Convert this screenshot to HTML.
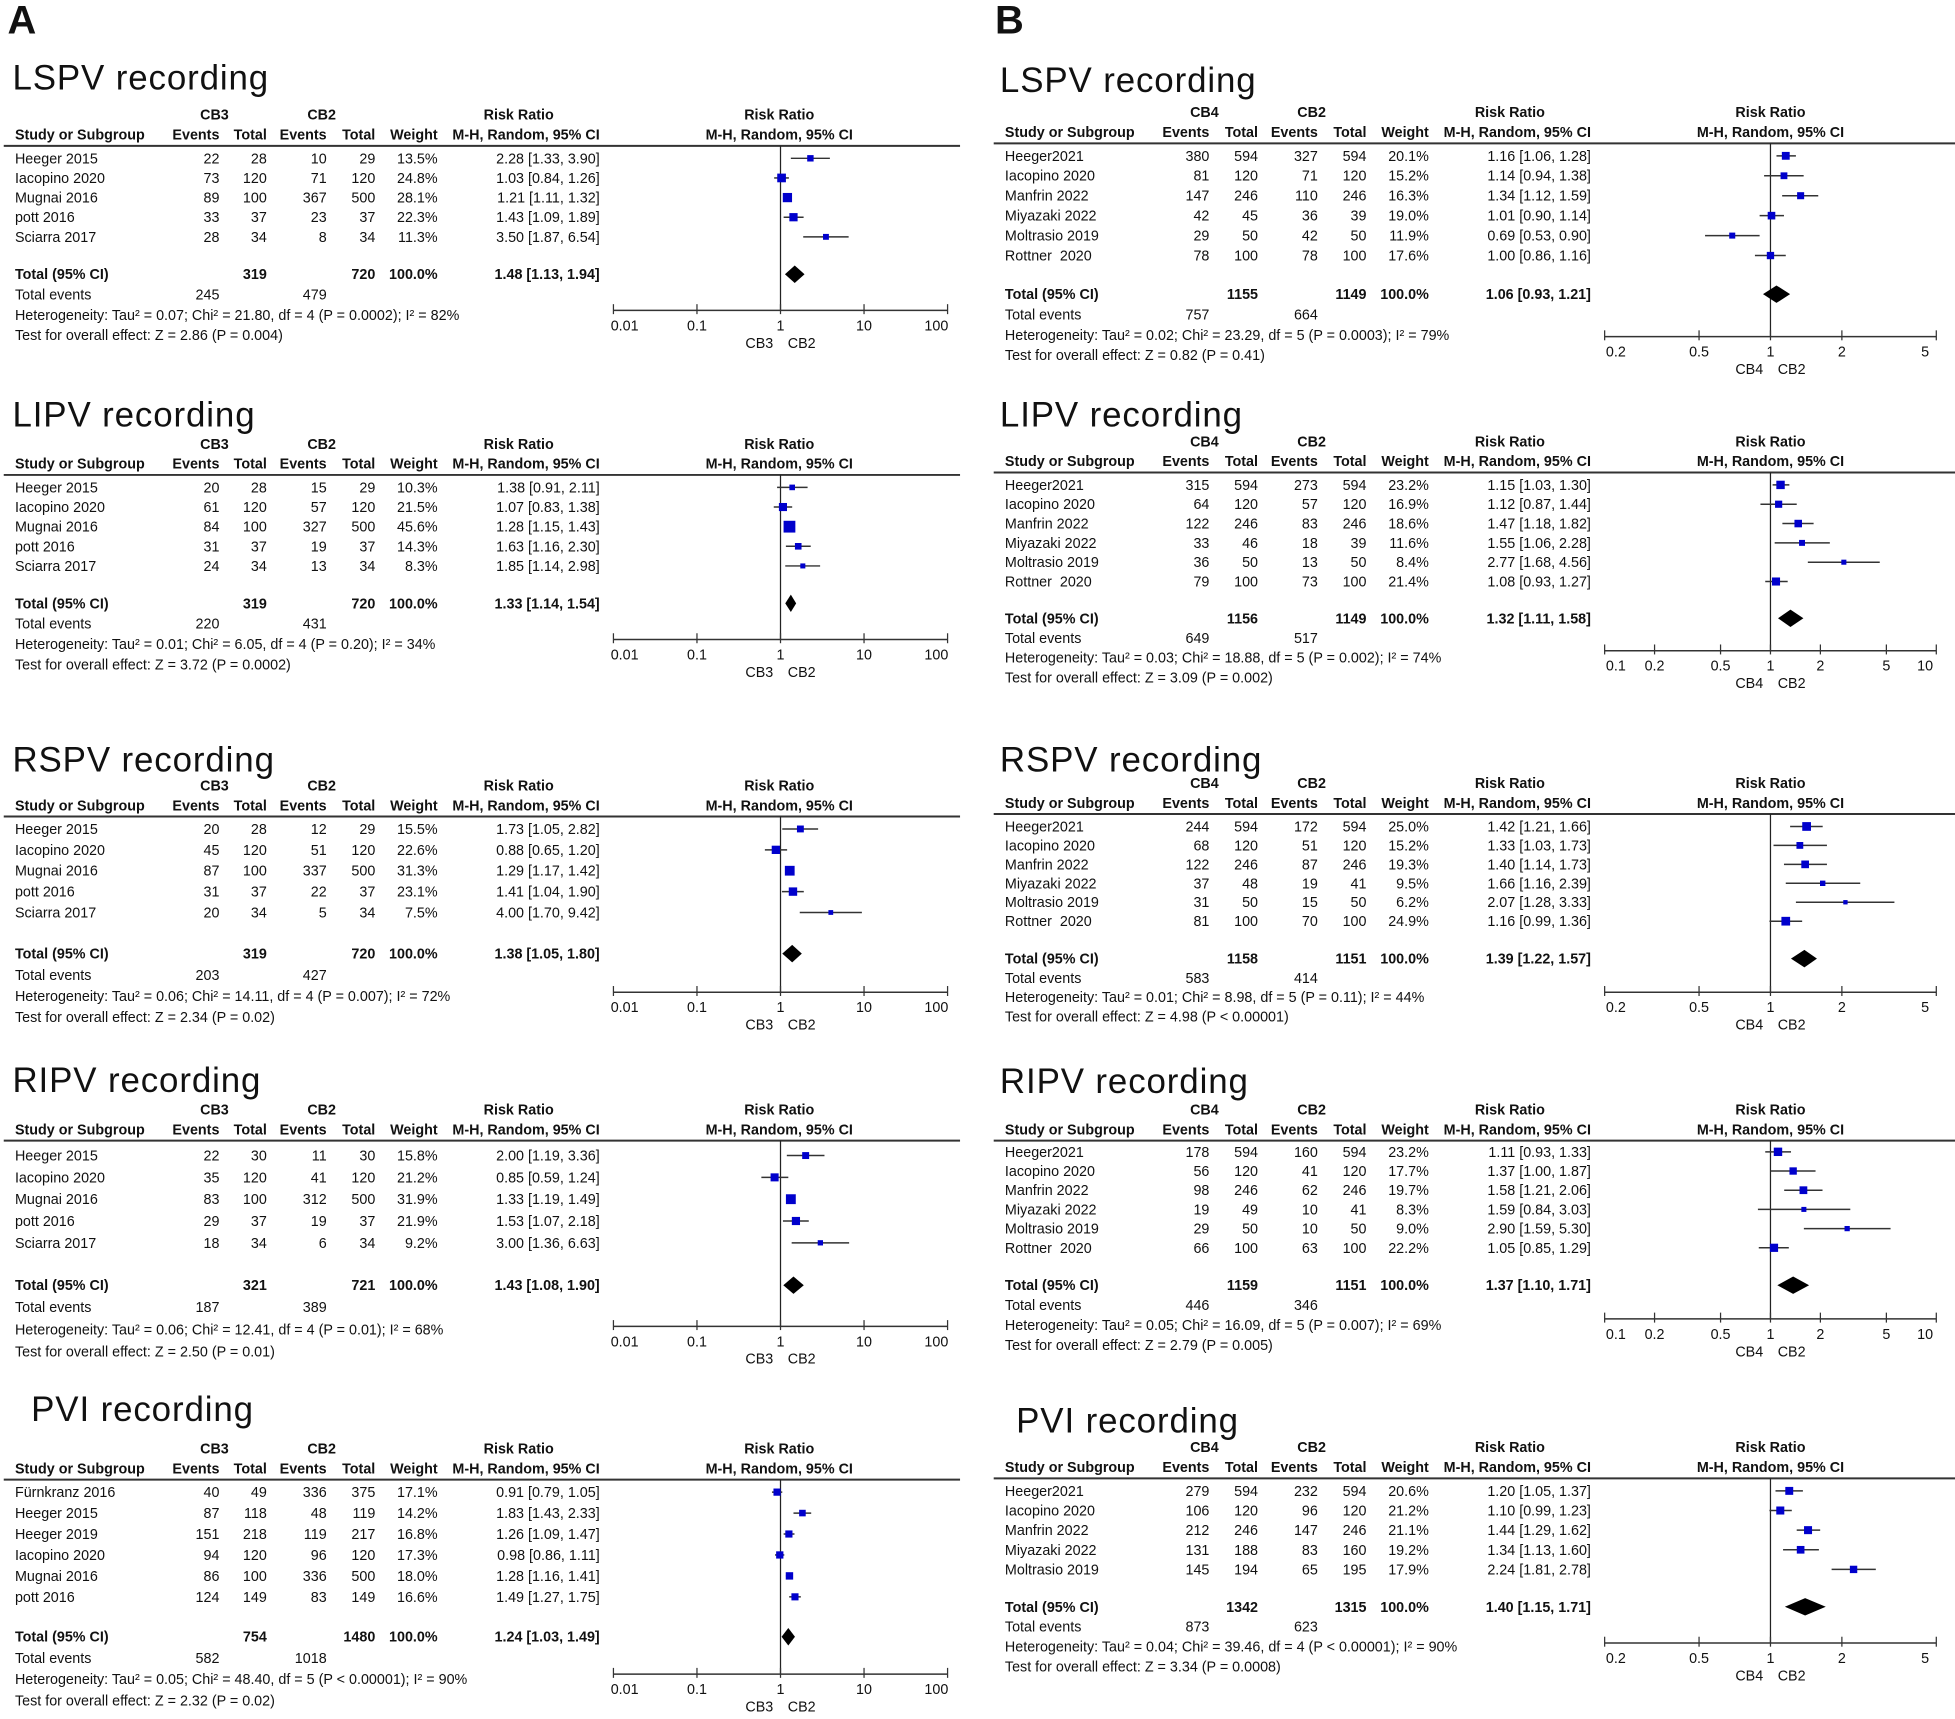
<!DOCTYPE html>
<html><head><meta charset="utf-8"><style>
html,body{margin:0;padding:0;background:#fff}
svg{display:block}
text{font-family:"Liberation Sans",Arial,sans-serif;fill:#111;white-space:pre}
</style></head><body>
<svg id="fig" width="1955" height="1719" viewBox="0 0 1568 1379" preserveAspectRatio="none" xmlns="http://www.w3.org/2000/svg" xml:space="preserve">
<text x="6" y="27" font-size="32" font-weight="bold">A</text>
<text x="798" y="27" font-size="32" font-weight="bold">B</text>
</svg>
<script>
// ---- Data (A panels: CB3 vs CB2) ----
const a1Studies=["Heeger 2015","Iacopino 2020","Mugnai 2016","pott 2016","Sciarra 2017"];
const a1Ev1=[22,73,89,33,28];const a1Tot1=[28,120,100,37,34];const a1Ev2=[10,71,367,23,8];const a1Tot2=[29,120,500,37,34];
const a1W=[13.5,24.8,28.1,22.3,11.3];const a1RR=[2.28,1.03,1.21,1.43,3.50];const a1Lo=[1.33,0.84,1.11,1.09,1.87];const a1Hi=[3.90,1.26,1.32,1.89,6.54];
const a1Total=[319,720,1.48,1.13,1.94];const a1Events=[245,479];
const a1Het="Heterogeneity: Tau² = 0.07; Chi² = 21.80, df = 4 (P = 0.0002); I² = 82%";const a1Z="Test for overall effect: Z = 2.86 (P = 0.004)";

const a2Studies=["Heeger 2015","Iacopino 2020","Mugnai 2016","pott 2016","Sciarra 2017"];
const a2Ev1=[20,61,84,31,24];const a2Tot1=[28,120,100,37,34];const a2Ev2=[15,57,327,19,13];const a2Tot2=[29,120,500,37,34];
const a2W=[10.3,21.5,45.6,14.3,8.3];const a2RR=[1.38,1.07,1.28,1.63,1.85];const a2Lo=[0.91,0.83,1.15,1.16,1.14];const a2Hi=[2.11,1.38,1.43,2.30,2.98];
const a2Total=[319,720,1.33,1.14,1.54];const a2Events=[220,431];
const a2Het="Heterogeneity: Tau² = 0.01; Chi² = 6.05, df = 4 (P = 0.20); I² = 34%";const a2Z="Test for overall effect: Z = 3.72 (P = 0.0002)";

const a3Studies=["Heeger 2015","Iacopino 2020","Mugnai 2016","pott 2016","Sciarra 2017"];
const a3Ev1=[20,45,87,31,20];const a3Tot1=[28,120,100,37,34];const a3Ev2=[12,51,337,22,5];const a3Tot2=[29,120,500,37,34];
const a3W=[15.5,22.6,31.3,23.1,7.5];const a3RR=[1.73,0.88,1.29,1.41,4.00];const a3Lo=[1.05,0.65,1.17,1.04,1.70];const a3Hi=[2.82,1.20,1.42,1.90,9.42];
const a3Total=[319,720,1.38,1.05,1.80];const a3Events=[203,427];
const a3Het="Heterogeneity: Tau² = 0.06; Chi² = 14.11, df = 4 (P = 0.007); I² = 72%";const a3Z="Test for overall effect: Z = 2.34 (P = 0.02)";

const a4Studies=["Heeger 2015","Iacopino 2020","Mugnai 2016","pott 2016","Sciarra 2017"];
const a4Ev1=[22,35,83,29,18];const a4Tot1=[30,120,100,37,34];const a4Ev2=[11,41,312,19,6];const a4Tot2=[30,120,500,37,34];
const a4W=[15.8,21.2,31.9,21.9,9.2];const a4RR=[2.00,0.85,1.33,1.53,3.00];const a4Lo=[1.19,0.59,1.19,1.07,1.36];const a4Hi=[3.36,1.24,1.49,2.18,6.63];
const a4Total=[321,721,1.43,1.08,1.90];const a4Events=[187,389];
const a4Het="Heterogeneity: Tau² = 0.06; Chi² = 12.41, df = 4 (P = 0.01); I² = 68%";const a4Z="Test for overall effect: Z = 2.50 (P = 0.01)";

const a5Studies=["Fürnkranz 2016","Heeger 2015","Heeger 2019","Iacopino 2020","Mugnai 2016","pott 2016"];
const a5Ev1=[40,87,151,94,86,124];const a5Tot1=[49,118,218,120,100,149];const a5Ev2=[336,48,119,96,336,83];const a5Tot2=[375,119,217,120,500,149];
const a5W=[17.1,14.2,16.8,17.3,18.0,16.6];const a5RR=[0.91,1.83,1.26,0.98,1.28,1.49];const a5Lo=[0.79,1.43,1.09,0.86,1.16,1.27];const a5Hi=[1.05,2.33,1.47,1.11,1.41,1.75];
const a5Total=[754,1480,1.24,1.03,1.49];const a5Events=[582,1018];
const a5Het="Heterogeneity: Tau² = 0.05; Chi² = 48.40, df = 5 (P < 0.00001); I² = 90%";const a5Z="Test for overall effect: Z = 2.32 (P = 0.02)";

// ---- Data (B panels: CB4 vs CB2) ----
const b1Studies=["Heeger2021","Iacopino 2020","Manfrin 2022","Miyazaki 2022","Moltrasio 2019","Rottner  2020"];
const b1Ev1=[380,81,147,42,29,78];const b1Tot1=[594,120,246,45,50,100];const b1Ev2=[327,71,110,36,42,78];const b1Tot2=[594,120,246,39,50,100];
const b1W=[20.1,15.2,16.3,19.0,11.9,17.6];const b1RR=[1.16,1.14,1.34,1.01,0.69,1.00];const b1Lo=[1.06,0.94,1.12,0.90,0.53,0.86];const b1Hi=[1.28,1.38,1.59,1.14,0.90,1.16];
const b1Total=[1155,1149,1.06,0.93,1.21];const b1Events=[757,664];
const b1Het="Heterogeneity: Tau² = 0.02; Chi² = 23.29, df = 5 (P = 0.0003); I² = 79%";const b1Z="Test for overall effect: Z = 0.82 (P = 0.41)";

const b2Studies=["Heeger2021","Iacopino 2020","Manfrin 2022","Miyazaki 2022","Moltrasio 2019","Rottner  2020"];
const b2Ev1=[315,64,122,33,36,79];const b2Tot1=[594,120,246,46,50,100];const b2Ev2=[273,57,83,18,13,73];const b2Tot2=[594,120,246,39,50,100];
const b2W=[23.2,16.9,18.6,11.6,8.4,21.4];const b2RR=[1.15,1.12,1.47,1.55,2.77,1.08];const b2Lo=[1.03,0.87,1.18,1.06,1.68,0.93];const b2Hi=[1.30,1.44,1.82,2.28,4.56,1.27];
const b2Total=[1156,1149,1.32,1.11,1.58];const b2Events=[649,517];
const b2Het="Heterogeneity: Tau² = 0.03; Chi² = 18.88, df = 5 (P = 0.002); I² = 74%";const b2Z="Test for overall effect: Z = 3.09 (P = 0.002)";

const b3Studies=["Heeger2021","Iacopino 2020","Manfrin 2022","Miyazaki 2022","Moltrasio 2019","Rottner  2020"];
const b3Ev1=[244,68,122,37,31,81];const b3Tot1=[594,120,246,48,50,100];const b3Ev2=[172,51,87,19,15,70];const b3Tot2=[594,120,246,41,50,100];
const b3W=[25.0,15.2,19.3,9.5,6.2,24.9];const b3RR=[1.42,1.33,1.40,1.66,2.07,1.16];const b3Lo=[1.21,1.03,1.14,1.16,1.28,0.99];const b3Hi=[1.66,1.73,1.73,2.39,3.33,1.36];
const b3Total=[1158,1151,1.39,1.22,1.57];const b3Events=[583,414];
const b3Het="Heterogeneity: Tau² = 0.01; Chi² = 8.98, df = 5 (P = 0.11); I² = 44%";const b3Z="Test for overall effect: Z = 4.98 (P < 0.00001)";

const b4Studies=["Heeger2021","Iacopino 2020","Manfrin 2022","Miyazaki 2022","Moltrasio 2019","Rottner  2020"];
const b4Ev1=[178,56,98,19,29,66];const b4Tot1=[594,120,246,49,50,100];const b4Ev2=[160,41,62,10,10,63];const b4Tot2=[594,120,246,41,50,100];
const b4W=[23.2,17.7,19.7,8.3,9.0,22.2];const b4RR=[1.11,1.37,1.58,1.59,2.90,1.05];const b4Lo=[0.93,1.00,1.21,0.84,1.59,0.85];const b4Hi=[1.33,1.87,2.06,3.03,5.30,1.29];
const b4Total=[1159,1151,1.37,1.10,1.71];const b4Events=[446,346];
const b4Het="Heterogeneity: Tau² = 0.05; Chi² = 16.09, df = 5 (P = 0.007); I² = 69%";const b4Z="Test for overall effect: Z = 2.79 (P = 0.005)";

const b5Studies=["Heeger2021","Iacopino 2020","Manfrin 2022","Miyazaki 2022","Moltrasio 2019"];
const b5Ev1=[279,106,212,131,145];const b5Tot1=[594,120,246,188,194];const b5Ev2=[232,96,147,83,65];const b5Tot2=[594,120,246,160,195];
const b5W=[20.6,21.2,21.1,19.2,17.9];const b5RR=[1.20,1.10,1.44,1.34,2.24];const b5Lo=[1.05,0.99,1.29,1.13,1.81];const b5Hi=[1.37,1.23,1.62,1.60,2.78];
const b5Total=[1342,1315,1.40,1.15,1.71];const b5Events=[873,623];
const b5Het="Heterogeneity: Tau² = 0.04; Chi² = 39.46, df = 4 (P < 0.00001); I² = 90%";const b5Z="Test for overall effect: Z = 3.34 (P = 0.0008)";

// tick labels
const ticksA=[0.01,0.1,1,10,100];
const ticksB1=[0.2,0.5,1,2,5];
const ticksB2=[0.1,0.2,0.5,1,2,5,10];

const NS="http://www.w3.org/2000/svg";
const svg=document.getElementById('fig');
function mk(tag,attrs,parent){const e=document.createElementNS(NS,tag);for(const k in attrs)e.setAttribute(k,attrs[k]);(parent||svg).appendChild(e);return e;}
function txt(x,y,s,anchor,size,bold,parent,fill){const t=mk('text',{x:x,y:y,'font-size':size||11.5,'text-anchor':anchor||'start'},parent);if(bold)t.setAttribute('font-weight','bold');if(fill)t.setAttribute('fill',fill);t.textContent=s;return t;}

const colA={study:12,ev1:176,tot1:214,ev2:262,tot2:301,w:351,ci:481,c1:172,c2:258,rr:416,ctr:625,ax0:492,ax1:760,ruleX0:3,ruleX1:770,tx:10,g1:'CB3'};
const colB={study:806,ev1:970,tot1:1009,ev2:1057,tot2:1096,w:1146,ci:1276,c1:966,c2:1052,rr:1211,ctr:1420,ax0:1287,ax1:1553,ruleX0:797,ruleX1:1568,tx:802,g1:'CB4'};

const panels=[
 {id:'a-lspv',c:colA,title:'LSPV recording',tY:72,rule:117,row0:127,step:15.75,tot:220,fs:16.3,axY:249,dom:[0.01,100],ticks:ticksA,s:a1Studies,e1:a1Ev1,t1:a1Tot1,e2:a1Ev2,t2:a1Tot2,w:a1W,rr:a1RR,lo:a1Lo,hi:a1Hi,T:a1Total,E:a1Events,het:a1Het,z:a1Z},
 {id:'a-lipv',c:colA,title:'LIPV recording',tY:342,rule:381,row0:391,step:15.75,tot:484,fs:16.3,axY:513,dom:[0.01,100],ticks:ticksA,s:a2Studies,e1:a2Ev1,t1:a2Tot1,e2:a2Ev2,t2:a2Tot2,w:a2W,rr:a2RR,lo:a2Lo,hi:a2Hi,T:a2Total,E:a2Events,het:a2Het,z:a2Z},
 {id:'a-rspv',c:colA,title:'RSPV recording',tY:619,rule:655,row0:665,step:16.75,tot:765,fs:17,axY:796,dom:[0.01,100],ticks:ticksA,s:a3Studies,e1:a3Ev1,t1:a3Tot1,e2:a3Ev2,t2:a3Tot2,w:a3W,rr:a3RR,lo:a3Lo,hi:a3Hi,T:a3Total,E:a3Events,het:a3Het,z:a3Z},
 {id:'a-ripv',c:colA,title:'RIPV recording',tY:876,rule:915,row0:927,step:17.5,tot:1031,fs:17.7,axY:1064,dom:[0.01,100],ticks:ticksA,s:a4Studies,e1:a4Ev1,t1:a4Tot1,e2:a4Ev2,t2:a4Tot2,w:a4W,rr:a4RR,lo:a4Lo,hi:a4Hi,T:a4Total,E:a4Events,het:a4Het,z:a4Z},
 {id:'a-pvi',c:colA,title:'PVI recording',tX:25,tY:1140,rule:1187,row0:1197,step:16.8,tot:1313,fs:17,axY:1343,dom:[0.01,100],ticks:ticksA,s:a5Studies,e1:a5Ev1,t1:a5Tot1,e2:a5Ev2,t2:a5Tot2,w:a5W,rr:a5RR,lo:a5Lo,hi:a5Hi,T:a5Total,E:a5Events,het:a5Het,z:a5Z},
 {id:'b-lspv',c:colB,title:'LSPV recording',tY:74,rule:115,row0:125,step:16,tot:236,fs:16.3,axY:270,dom:[0.2,5],ticks:ticksB1,s:b1Studies,e1:b1Ev1,t1:b1Tot1,e2:b1Ev2,t2:b1Tot2,w:b1W,rr:b1RR,lo:b1Lo,hi:b1Hi,T:b1Total,E:b1Events,het:b1Het,z:b1Z},
 {id:'b-lipv',c:colB,title:'LIPV recording',tY:342,rule:379,row0:389,step:15.5,tot:496,fs:15.8,axY:522,dom:[0.1,10],ticks:ticksB2,s:b2Studies,e1:b2Ev1,t1:b2Tot1,e2:b2Ev2,t2:b2Tot2,w:b2W,rr:b2RR,lo:b2Lo,hi:b2Hi,T:b2Total,E:b2Events,het:b2Het,z:b2Z},
 {id:'b-rspv',c:colB,title:'RSPV recording',tY:619,rule:653,row0:663,step:15.2,tot:769,fs:15.5,axY:796,dom:[0.2,5],ticks:ticksB1,s:b3Studies,e1:b3Ev1,t1:b3Tot1,e2:b3Ev2,t2:b3Tot2,w:b3W,rr:b3RR,lo:b3Lo,hi:b3Hi,T:b3Total,E:b3Events,het:b3Het,z:b3Z},
 {id:'b-ripv',c:colB,title:'RIPV recording',tY:877,rule:915,row0:924,step:15.4,tot:1031,fs:16,axY:1058,dom:[0.1,10],ticks:ticksB2,s:b4Studies,e1:b4Ev1,t1:b4Tot1,e2:b4Ev2,t2:b4Tot2,w:b4W,rr:b4RR,lo:b4Lo,hi:b4Hi,T:b4Total,E:b4Events,het:b4Het,z:b4Z},
 {id:'b-pvi',c:colB,title:'PVI recording',tX:815,tY:1149,rule:1186,row0:1196,step:15.75,tot:1289,fs:16,axY:1318,dom:[0.2,5],ticks:ticksB1,s:b5Studies,e1:b5Ev1,t1:b5Tot1,e2:b5Ev2,t2:b5Tot2,w:b5W,rr:b5RR,lo:b5Lo,hi:b5Hi,T:b5Total,E:b5Events,het:b5Het,z:b5Z}
];

panels.forEach(p=>{
  const c=p.c;
  const g=mk('g',{});
  
  
  const xs=v=>c.ax0+(Math.log10(v)-Math.log10(p.dom[0]))/(Math.log10(p.dom[1])-Math.log10(p.dom[0]))*(c.ax1-c.ax0);
  const ti=txt(p.tX||c.tx,p.tY,p.title,'start',28,false,g);
  ti.setAttribute('letter-spacing','0.7');
  
  
  const h1=p.rule-21, h2=p.rule-5;
  txt(c.c1,h1,c.g1,'middle',11.5,true,g);
  txt(c.c2,h1,'CB2','middle',11.5,true,g);
  txt(c.rr,h1,'Risk Ratio','middle',11.5,true,g);
  txt(c.ctr,h1,'Risk Ratio','middle',11.5,true,g);
  txt(c.study,h2,'Study or Subgroup','start',11.5,true,g);
  txt(c.ev1,h2,'Events','end',11.5,true,g);
  txt(c.tot1,h2,'Total','end',11.5,true,g);
  txt(c.ev2,h2,'Events','end',11.5,true,g);
  txt(c.tot2,h2,'Total','end',11.5,true,g);
  txt(c.w,h2,'Weight','end',11.5,true,g);
  txt(c.ci,h2,'M-H, Random, 95% CI','end',11.5,true,g);
  txt(c.ctr,h2,'M-H, Random, 95% CI','middle',11.5,true,g);
  mk('line',{x1:c.ruleX0,x2:c.ruleX1,y1:p.rule,y2:p.rule,stroke:'#333','stroke-width':1.6},g);
  mk('line',{x1:xs(1),x2:xs(1),y1:p.rule,y2:p.axY,stroke:'#222','stroke-width':1},g);
  p.s.forEach((name,i)=>{
    const y=p.row0+i*p.step, b=y+4;
    txt(c.study,b,name,'start',11.5,false,g);
    txt(c.ev1,b,p.e1[i],'end',11.5,false,g);
    txt(c.tot1,b,p.t1[i],'end',11.5,false,g);
    txt(c.ev2,b,p.e2[i],'end',11.5,false,g);
    txt(c.tot2,b,p.t2[i],'end',11.5,false,g);
    txt(c.w,b,p.w[i].toFixed(1)+'%','end',11.5,false,g);
    txt(c.ci,b,p.rr[i].toFixed(2)+' ['+p.lo[i].toFixed(2)+', '+p.hi[i].toFixed(2)+']','end',11.5,false,g);
    const ci=mk('line',{x1:xs(p.lo[i]),x2:xs(p.hi[i]),y1:y,y2:y,stroke:'#333','stroke-width':1.2},g);
    
    
    const sz=Math.max(3,1.4*Math.sqrt(p.w[i]));
    const sq=mk('rect',{x:xs(p.rr[i])-sz/2,y:y-sz/2,width:sz,height:sz,fill:'#0000cc'},g);
    
    
  });
  const ty=p.tot, tb=ty+4;
  txt(c.study,tb,'Total (95% CI)','start',11.5,true,g);
  txt(c.tot1,tb,p.T[0],'end',11.5,true,g);
  txt(c.tot2,tb,p.T[1],'end',11.5,true,g);
  txt(c.w,tb,'100.0%','end',11.5,true,g);
  txt(c.ci,tb,p.T[2].toFixed(2)+' ['+p.T[3].toFixed(2)+', '+p.T[4].toFixed(2)+']','end',11.5,true,g);
  const d=mk('polygon',{points:[xs(p.T[3])+','+ty, xs(p.T[2])+','+(ty-7), xs(p.T[4])+','+ty, xs(p.T[2])+','+(ty+7)].join(' '),fill:'#000'},g);
  
  
  txt(c.study,tb+p.fs,'Total events','start',11.5,false,g);
  txt(c.ev1,tb+p.fs,p.E[0],'end',11.5,false,g);
  txt(c.ev2,tb+p.fs,p.E[1],'end',11.5,false,g);
  txt(c.study,tb+2*p.fs,p.het,'start',11.5,false,g);
  txt(c.study,tb+3*p.fs,p.z,'start',11.5,false,g);
  mk('line',{x1:c.ax0,x2:c.ax1,y1:p.axY,y2:p.axY,stroke:'#333','stroke-width':1.2},g);
  p.ticks.forEach((t,i)=>{
    const x=xs(t);
    mk('line',{x1:x,x2:x,y1:p.axY-5,y2:p.axY+3,stroke:'#333','stroke-width':1},g);
    let lx=x; if(i===0)lx+=9; if(i===p.ticks.length-1)lx-=9;
    txt(lx,p.axY+16,String(t),'middle',11.5,false,g,'#333');
  });
  txt(xs(1)-17,p.axY+30,c.g1,'middle',11.5,false,g,'#555');
  txt(xs(1)+17,p.axY+30,'CB2','middle',11.5,false,g,'#555');
});
</script>
</body></html>
